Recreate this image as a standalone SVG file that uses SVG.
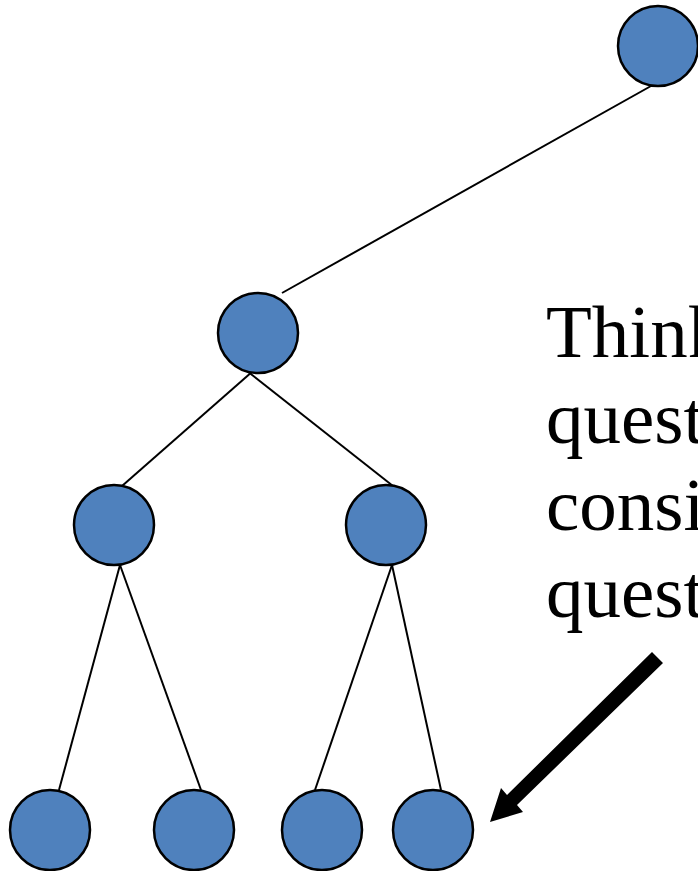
<svg xmlns="http://www.w3.org/2000/svg" width="698" height="871" viewBox="0 0 698 871">
<style>
.node{fill:#4F81BD;stroke:#000;stroke-width:2.5}
.edge{stroke:#000;stroke-width:2;fill:none}
.t{font-family:"Liberation Serif","Times New Roman",serif;font-size:75px;fill:#000}
</style>
<rect width="698" height="871" fill="#fff"/>
<g id="connectors">
<line class="edge" x1="651" y1="86" x2="282" y2="293"/>
<line class="edge" x1="253" y1="371" x2="122" y2="486"/>
<line class="edge" x1="247" y1="371" x2="393" y2="486"/>
<line class="edge" x1="120" y1="565" x2="59" y2="790"/>
<line class="edge" x1="120" y1="565" x2="201" y2="790"/>
<line class="edge" x1="392" y1="565" x2="315" y2="790"/>
<line class="edge" x1="392" y1="565" x2="441" y2="790"/>
<polygon id="arrow" fill="#000" points="652,652 663,663 517,805 523,812 490,822 501,788 507,795"/>
</g>
<g id="n1"><circle class="node" cx="658" cy="46" r="40"/></g>
<g id="n2"><circle class="node" cx="258" cy="333" r="40"/></g>
<g id="n3"><circle class="node" cx="114" cy="525" r="40"/></g>
<g id="n4"><circle class="node" cx="386" cy="525" r="40"/></g>
<g id="n5"><circle class="node" cx="50" cy="830" r="40"/></g>
<g id="n6"><circle class="node" cx="194" cy="830" r="40"/></g>
<g id="n7"><circle class="node" cx="322" cy="830" r="40"/></g>
<g id="n8"><circle class="node" cx="433" cy="830" r="40"/></g>
<g id="label">
<text class="t" x="546" y="357">Think</text>
<text class="t" x="546" y="443">quest</text>
<text class="t" x="546" y="530">consi</text>
<text class="t" x="546" y="617">quest</text>
</g>
</svg>
